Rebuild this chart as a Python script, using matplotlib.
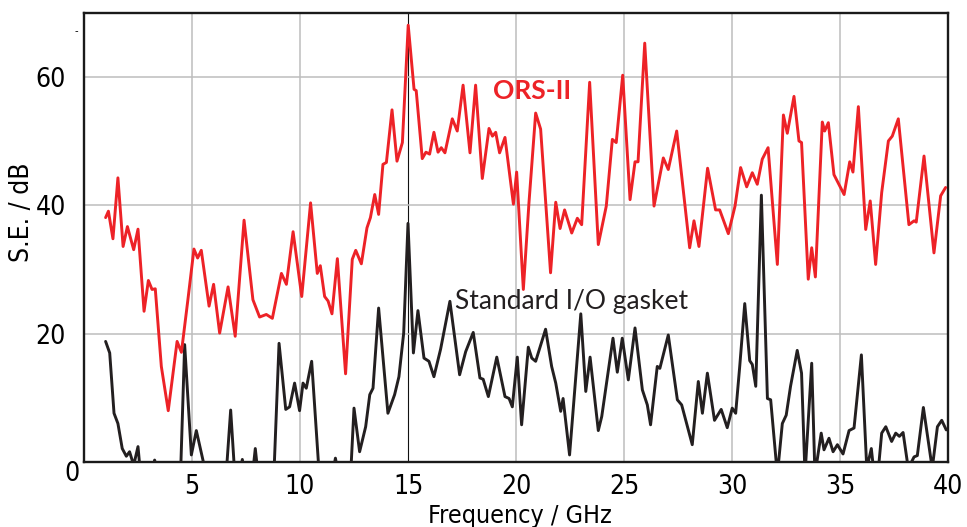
import matplotlib
matplotlib.use("Agg")
import matplotlib.pyplot as plt
from matplotlib import font_manager

# ---------------- data ----------------
ors_freq = [1.0, 1.13, 1.34, 1.57, 1.81, 2.01, 2.30, 2.50, 2.78, 2.98, 3.15, 3.30, 3.58, 3.90,
            4.31, 4.51, 4.81, 5.09, 5.26, 5.43, 5.79, 6.00, 6.28, 6.67, 7.00, 7.41, 7.82, 8.13,
            8.44, 8.72, 9.14, 9.37, 9.68, 10.08, 10.49, 10.80, 10.94, 11.14, 11.30, 11.48, 11.73,
            12.11, 12.42, 12.58, 12.84, 13.10, 13.26, 13.46, 13.64, 13.84, 14.00, 14.26, 14.49,
            14.74, 15.01, 15.28, 15.38, 15.66, 15.83, 16.00, 16.20, 16.39, 16.54, 16.71, 17.05,
            17.28, 17.55, 17.87, 18.13, 18.44, 18.75, 18.91, 19.06, 19.24, 19.49, 19.88, 20.03,
            20.34, 20.60, 20.91, 21.14, 21.60, 21.84, 22.04, 22.25, 22.58, 22.84, 23.04, 23.41,
            23.81, 24.18, 24.46, 24.64, 24.94, 25.28, 25.51, 25.65, 25.96, 26.39, 26.82, 27.05,
            27.44, 28.04, 28.24, 28.47, 28.87, 29.24, 29.43, 29.83, 30.14, 30.40, 30.68, 30.94,
            31.17, 31.40, 31.67, 32.10, 32.38, 32.56, 32.87, 33.10, 33.22, 33.53, 33.69, 33.86,
            34.18, 34.29, 34.46, 34.72, 34.95, 35.19, 35.45, 35.60, 35.85, 36.19, 36.40, 36.65,
            36.93, 37.24, 37.42, 37.70, 38.19, 38.43, 38.53, 38.89, 39.35, 39.66, 39.89]
ors_se = [38.1, 39.1, 34.8, 44.3, 33.6, 36.7, 33.1, 36.3, 23.5, 28.3, 26.9, 27.0, 14.9, 8.0,
          18.8, 17.1, 25.3, 33.2, 31.8, 33.0, 24.3, 27.7, 20.1, 27.3, 19.6, 37.7, 25.3, 22.6,
          23.0, 22.4, 29.4, 27.7, 35.9, 25.8, 40.4, 29.4, 30.6, 25.8, 25.1, 23.1, 31.7,
          13.75, 31.6, 33.0, 30.9, 36.5, 38.1, 41.7, 38.6, 46.4, 46.7, 54.9, 46.9,
          49.8, 68.1, 58.1, 57.9, 47.3, 48.3, 48.0, 51.4, 48.3, 49.0, 48.2, 53.5,
          51.6, 58.75, 48.2, 58.75, 44.2, 52.0, 50.8, 51.4, 48.2, 50.6, 40.2, 45.2,
          26.9, 40.4, 54.4, 51.9, 29.5, 40.5, 36.4, 39.3, 35.7, 38.0, 37.0, 59.2,
          33.9, 39.9, 50.3, 49.8, 60.3, 40.9, 46.8, 46.8, 65.3, 39.9, 47.4, 45.6,
          51.6, 33.4, 37.6, 33.6, 45.8, 39.3, 39.3, 35.6, 39.9, 45.9, 42.9, 45.1,
          43.3, 47.2, 49.0, 30.8, 54.1, 51.25, 57.0, 50.05, 49.8, 28.5, 33.4, 28.85,
          53.0, 51.6, 52.9, 44.8, 43.3, 41.7, 46.8, 45.2, 55.4, 36.25, 40.7, 30.8,
          42.0, 50.05, 50.8, 53.5, 37.0, 37.6, 37.4, 47.7, 32.6, 41.5, 42.8]

std_freq = [1.0, 1.19, 1.39, 1.57, 1.77, 1.96, 2.11, 2.30, 2.50, 2.62, 3.10, 3.27, 3.45, 4.46,
            4.66, 4.97, 5.20, 5.66, 6.56, 6.79, 6.98, 7.20, 7.33, 7.45, 7.80, 7.93, 8.06, 8.78,
            9.03, 9.34, 9.52, 9.75, 9.98, 10.14, 10.29, 10.54, 10.91, 11.50, 11.64, 11.78, 12.33,
            12.50, 12.76, 13.04, 13.23, 13.38, 13.64, 14.07, 14.38, 14.58, 14.80, 15.00, 15.25,
            15.46, 15.74, 15.97, 16.20, 16.51, 16.94, 17.39, 17.67, 18.02, 18.33, 18.48, 18.72,
            19.11, 19.49, 19.68, 19.83, 20.06, 20.26, 20.57, 20.73, 20.91, 21.37, 21.65, 21.84,
            22.07, 22.18, 22.48, 23.00, 23.23, 23.43, 23.81, 23.97, 24.49, 24.69, 24.92, 25.20,
            25.51, 25.85, 26.08, 26.23, 26.54, 26.66, 27.05, 27.47, 27.67, 28.16, 28.44, 28.63,
            28.86, 29.19, 29.50, 29.78, 30.01, 30.17, 30.36, 30.59, 30.82, 30.94, 31.10, 31.36,
            31.64, 31.79, 32.10, 32.33, 32.51, 32.71, 33.02, 33.22, 33.38, 33.69, 33.84, 34.13,
            34.26, 34.49, 34.68, 34.88, 35.14, 35.42, 35.65, 35.99, 36.24, 36.45, 36.55, 36.78,
            36.93, 37.12, 37.39, 37.58, 37.75, 37.92, 38.16, 38.43, 38.58, 38.86, 39.27, 39.51,
            39.71, 39.92]
std_se = [18.8, 17.0, 7.6, 6.0, 2.1, 0.9, 1.6, -0.5, 2.4, -2.0, -2.0, 0.3, -2.0, -3.0,
          18.3, 1.1, 4.9, -2.0, -3.0, 8.1, -2.0, -2.0, 0.4, -2.0, -2.0, 2.1, -2.0, -3.0,
          18.5, 8.2, 8.6, 12.3, 8.0, 12.3, 11.5, 15.7, -3.0, -2.0, 0.6, -2.0, -3.0,
          8.4, 1.6, 5.5, 10.5, 11.5, 24.0, 7.6, 10.5, 13.3, 20.1, 37.2, 17.0,
          23.6, 16.2, 15.7, 13.3, 17.6, 25.05, 13.6, 17.2, 20.2, 13.1, 12.9, 10.2,
          16.35, 10.2, 9.9, 8.6, 16.35, 5.8, 17.9, 16.2, 15.7, 20.7, 14.9, 12.3,
          7.9, 9.9, 1.1, 23.1, 11.0, 16.35, 4.9, 7.1, 19.3, 14.0, 19.3, 12.8,
          20.9, 11.25, 8.9, 5.8, 14.9, 14.6, 19.8, 9.7, 8.9, 2.7, 12.55, 7.6,
          13.85, 6.5, 8.2, 5.35, 8.4, 7.6, 15.0, 24.7, 15.8, 15.2, 11.8, 41.6,
          9.9, 9.7, -2.0, 6.0, 7.3, 11.8, 17.4, 13.85, -2.0, 15.4, -2.0, 4.5,
          1.9, 3.7, 1.6, 2.7, 1.25, 4.9, 5.3, 16.7, -1.0, 2.1, -1.0, -1.0,
          4.5, 5.5, 3.2, 4.5, 4.0, 4.6, -1.0, 0.8, 1.0, 8.5, -1.0, 5.5,
          6.5, 5.0]

x_ticks = [5, 10, 15, 20, 25, 30, 35, 40]
y_ticks = [20, 40, 60]

# ---------------- pick a narrow sans font if one is installed ----------------
narrow = None
for pref in ('Liberation Sans Narrow', 'DejaVu Sans Condensed', 'DejaVu Sans'):
    for f in font_manager.fontManager.ttflist:
        if f.name == pref and f.weight in (400, 'normal', 'regular') and f.style == 'normal':
            if pref == 'DejaVu Sans' and f.stretch not in ('condensed', 'semi-condensed'):
                continue
            narrow = f.fname
            break
    if narrow:
        break
if narrow:
    tick_fp = font_manager.FontProperties(fname=narrow, size=19)
    label_fp = font_manager.FontProperties(fname=narrow, size=18)
else:
    tick_fp = font_manager.FontProperties(family='Liberation Sans', size=18)
    label_fp = font_manager.FontProperties(family='Liberation Sans', size=17)
note_font = ['Lato', 'DejaVu Sans']

# ---------------- figure ----------------
W, H = 967, 527
fig = plt.figure(figsize=(W / 100, H / 100), dpi=100)
ax = fig.add_axes([84 / W, 1 - 462 / H, (948 - 84) / W, (462 - 13) / H])

ax.set_xlim(0, 40)
ax.set_ylim(0, 70)
ax.set_xticks(x_ticks)
ax.set_yticks(y_ticks)
ax.set_xticklabels([str(t) for t in x_ticks], fontproperties=tick_fp)
ax.set_yticklabels([str(t) for t in y_ticks], fontproperties=tick_fp)
ax.tick_params(axis='both', length=0)
ax.tick_params(axis='x', pad=9)
ax.tick_params(axis='y', pad=13)

ax.grid(True, color='#bdbdbd', linewidth=1.1, zorder=0)
for tick_val, gl in zip(x_ticks, ax.get_xgridlines()):
    if tick_val == 15:
        gl.set_color('#111111')
        gl.set_linewidth(0.8)
ax.set_axisbelow(True)

for sp in ax.spines.values():
    sp.set_linewidth(1.7)
    sp.set_color('#1a1a1a')

ax.plot(std_freq, std_se, color='#231f20', linewidth=2.1, solid_joinstyle='round',
        solid_capstyle='round', zorder=3)
ax.plot(ors_freq, ors_se, color='#ed2227', linewidth=2.1, solid_joinstyle='round',
        solid_capstyle='round', zorder=4)

ax.text(18.94, 56.6, 'ORS-II', color='#ed2227', fontsize=19, fontweight='bold',
        family=note_font, ha='left', va='baseline', zorder=5)
ax.text(17.18, 23.9, 'Standard I/O gasket', color='#231f20', fontsize=19,
        family=note_font, ha='left', va='baseline', zorder=5)

fig.text(72 / W, 1 - 474 / H, '0', fontproperties=tick_fp, ha='center', va='center')
fig.text(76 / W, 1 - 31 / H, '-', fontproperties=tick_fp, fontsize=8, ha='center', va='center')
fig.text(520 / W, 1 - 523 / H, 'Frequency / GHz', fontproperties=label_fp,
         ha='center', va='baseline')
fig.text(22 / W, 1 - 212 / H, 'S.E. / dB', fontproperties=tick_fp,
         rotation=90, ha='center', va='center')

fig.savefig('out.png', dpi=100)
